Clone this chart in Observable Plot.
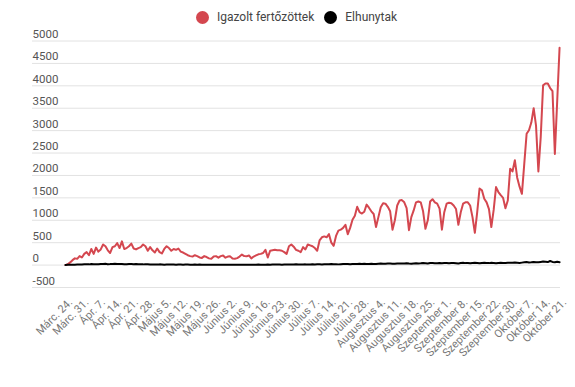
<!DOCTYPE html>
<html><head><meta charset="utf-8">
<script src="https://cdn.jsdelivr.net/npm/d3@7"></script>
<script src="https://cdn.jsdelivr.net/npm/@observablehq/plot@0.6"></script>
<style>
body{margin:0;background:#fff;font-family:Roboto,"Noto Sans",sans-serif;}
#legend{height:24px;padding-top:10px;padding-left:18px;box-sizing:border-box;display:flex;justify-content:center;align-items:flex-start;font-size:12px;color:#444;}
.item{display:flex;align-items:center;height:14px;margin-right:10px;}
.item:last-child{margin-right:0}
.dot{width:13px;height:13px;border-radius:50%;margin-right:8px;}
</style></head><body>
<div id="legend"></div>
<div id="chart"></div>
<script>
const seriesNames = ["Igazolt fertőzöttek", "Elhunytak"];
const seriesColors = ["#d4474f", "#000000"];

const confirmed = [
0,20,60,110,150,140,200,170,250,290,
220,360,250,390,300,350,460,420,330,270,
400,420,490,380,530,360,380,420,480,370,
350,380,400,460,420,320,400,330,280,370,
290,260,360,420,380,320,360,340,370,300,
280,250,220,200,190,220,200,170,160,200,
180,150,140,190,200,165,200,215,165,190,
195,145,140,155,190,235,200,195,215,150,
190,215,240,250,270,340,170,320,330,340,
330,330,320,290,250,420,460,410,340,320,
290,400,350,460,440,420,380,320,550,620,
640,620,690,500,430,650,770,790,830,900,
690,830,1010,1100,1300,1180,1150,1190,1350,1280,
1200,1140,850,1070,1290,1380,1370,1300,1200,790,
1000,1330,1440,1450,1400,1270,780,1070,1220,1400,
1420,1400,1200,810,1000,1420,1470,1400,1370,1260,
790,1180,1370,1390,1380,1330,1250,900,1180,1370,
1400,1400,1330,1070,720,1180,1710,1670,1480,1400,
1250,850,1230,1740,1630,1560,1500,1270,1440,2150,
2090,2340,1950,1750,1590,2260,2930,3010,3180,3500,
3110,2090,2860,4010,4050,4050,3950,3880,2480,3660,4850
];

const deaths = [
3,5,6,5,10,11,13,14,
19,18,16,22,19,21,19,25,23,28,20,22,26,28,22,24,25,21,20,23,24,18,22,20,17,16,19,17,15,14,
13,12,16,14,10,12,15,13,11,9,14,12,10,13,11,8,9,12,10,11,9,8,10,7,6,9,8,10,7,8,9,
7,8,6,9,7,5,6,8,10,7,6,9,8,11,10,7,9,12,10,13,11,14,12,10,13,15,12,11,14,16,
14,12,15,16,13,12,17,15,18,16,14,20,19,17,22,18,21,16,20,24,22,25,19,23,26,22,28,24,30,27,25,
29,26,24,31,33,28,30,34,36,32,29,35,38,34,37,40,33,31,38,42,36,39,44,41,37,45,48,43,40,46,42,
44,47,41,45,49,43,38,46,50,44,48,42,46,51,45,39,47,52,48,44,50,46,43,49,53,47,45,50,
55,
52,58,54,49,55,61,68,57,63,71,66,62,70,78,74,68,92,71,65,76,64
];

const xTickLabels = ["Márc. 24.","Márc. 31.","Ápr. 7.","Ápr. 14.","Ápr. 21.","Ápr. 28.",
"Május 5.","Május 12.","Május 19.","Május 26.","Június 2.","Június 9.","Június 16.",
"Június 23.","Június 30.","Július 7.","Július 14.","Július 21.","Július 28.",
"Augusztus 4.","Augusztus 11.","Augusztus 18.","Augusztus 25.","Szeptember 1.",
"Szeptember 8.","Szeptember 15.","Szeptember 22.","Szeptember 30.","Október 7.",
"Október 14.","Október 21."];
const xTickStep = 7;
const yTicks = [-500,0,500,1000,1500,2000,2500,3000,3500,4000,4500,5000];

// legend
const legend = document.getElementById("legend");
seriesNames.forEach((n, k) => {
  const it = document.createElement("div"); it.className = "item";
  const d = document.createElement("span"); d.className = "dot"; d.style.background = seriesColors[k];
  const t = document.createElement("span"); t.textContent = n;
  it.appendChild(d); it.appendChild(t); legend.appendChild(it);
});

const rows = [];
confirmed.forEach((v, i) => rows.push({i, v, s: seriesNames[0]}));
deaths.forEach((v, i) => rows.push({i, v, s: seriesNames[1]}));
const xTickIdx = xTickLabels.map((_, k) => k * xTickStep);

const chart = Plot.plot({
  width: 575, height: 363,
  marginTop: 16.5, marginBottom: 100, marginLeft: 32, marginRight: 15,
  style: {fontFamily: "Roboto, sans-serif", background: "#fff", overflow: "visible"},
  x: {domain: [-14, 210.4]},
  y: {domain: [-500, 5000]},
  color: {domain: seriesNames, range: seriesColors},
  marks: [
    Plot.gridY(yTicks, {stroke: "#e2e2e2", strokeOpacity: 1, strokeWidth: 1}),
    Plot.axisY(yTicks, {anchor: "left", tickSize: 0, tickPadding: 0, textAnchor: "start",
      lineAnchor: "bottom", dy: -3, fontSize: 11.5, fill: "#555", label: null, tickFormat: d => String(d)}),
    Plot.axisX(xTickIdx, {anchor: "bottom", tickSize: 0, tickRotate: -45, tickPadding: 13,
      tickFormat: d => xTickLabels[d / xTickStep], fontSize: 11, fill: "#777", label: null, dx: 5}),
    Plot.line(rows, {x: "i", y: "v", z: "s", stroke: "s", strokeWidth: 2})
  ]
});
document.getElementById("chart").appendChild(chart);
</script>
</body></html>
